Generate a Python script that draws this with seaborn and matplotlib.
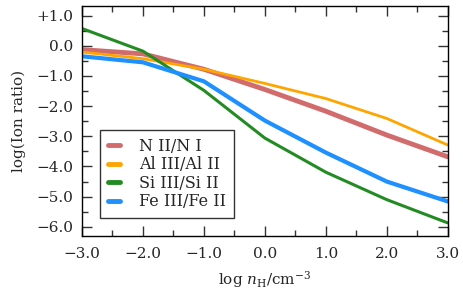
"""
Ion ratios versus hydrogen density
"""

import numpy as np
import pandas as pd
import seaborn as sns
import matplotlib.pyplot as plt
from matplotlib.ticker import MultipleLocator, FuncFormatter

sns.set_style('ticks')
plt.rcParams['font.family'] = ['DejaVu Serif']
plt.rcParams['mathtext.fontset'] = 'dejavuserif'

log_nh = [-3.0, -2.0, -1.0, 0.0, 1.0, 2.0, 3.0]
n_ratio = [-0.13, -0.27, -0.78, -1.45, -2.17, -2.96, -3.68]
al_ratio = [-0.21, -0.43, -0.78, -1.25, -1.75, -2.41, -3.29]
si_ratio = [0.57, -0.18, -1.48, -3.06, -4.19, -5.10, -5.87]
fe_ratio = [-0.35, -0.55, -1.18, -2.48, -3.54, -4.50, -5.16]

labels = ['N II/N I', 'Al III/Al II', 'Si III/Si II', 'Fe III/Fe II']
colors = ['#cd5c5c', '#ffa500', '#228b22', '#1e90ff']
widths = [3.5, 2.0, 2.2, 3.0]

data = pd.DataFrame({'log_nh': log_nh * 4,
                     'ratio': n_ratio + al_ratio + si_ratio + fe_ratio,
                     'ion': np.repeat(labels, len(log_nh))})

fig = plt.figure(figsize=(4.63, 2.93), dpi=100)
ax = fig.add_axes([0.177, 0.195, 0.79, 0.786])

for lab, col, lw in zip(labels, colors, widths):
    sub = data[data['ion'] == lab]
    sns.lineplot(data=sub, x='log_nh', y='ratio', color=col, lw=lw,
                 label=lab, ax=ax, alpha=0.9 if lab == 'N II/N I' else 1)

ax.set_xlim(-3, 3)
ax.set_ylim(-6.3, 1.33)
ax.xaxis.set_major_locator(MultipleLocator(1))
ax.xaxis.set_minor_locator(MultipleLocator(0.5))
ax.yaxis.set_major_locator(MultipleLocator(1))
ax.yaxis.set_minor_locator(MultipleLocator(0.5))

def fmt(v, pos, plus=True):
    if v > 1e-9:
        return ('+' if plus else '') + '{:.1f}'.format(v)
    if abs(v) < 1e-9:
        return '0.0'
    return '\u2212{:.1f}'.format(abs(v))

ax.xaxis.set_major_formatter(FuncFormatter(lambda v, p: fmt(v, p, plus=False)))
ax.yaxis.set_major_formatter(FuncFormatter(fmt))
ax.tick_params(which='both', direction='in', top=True, right=True,
               labelsize=11, width=1, color='#333333')
ax.tick_params(which='major', length=7, pad=6)
ax.tick_params(which='minor', length=4)
ax.tick_params(axis='x', which='major', pad=8)
for s in ax.spines.values():
    s.set_color('black')
    s.set_linewidth(1)

ax.set_xlabel(r'log $n_{\rm H}$/cm$^{-3}$', fontsize=11, labelpad=6)
ax.set_ylabel('log(Ion ratio)', fontsize=11, labelpad=8)

leg = ax.legend(loc='lower left', bbox_to_anchor=(0.035, 0.055), fontsize=11.5,
                frameon=True, fancybox=False, edgecolor='black',
                handlelength=0.8, handletextpad=1.2, borderpad=0.5,
                borderaxespad=0.3, labelspacing=0.1)
leg.get_frame().set_linewidth(1)
for line in leg.get_lines():
    line.set_linewidth(3.5)

fig.savefig('out.png', dpi=100)
